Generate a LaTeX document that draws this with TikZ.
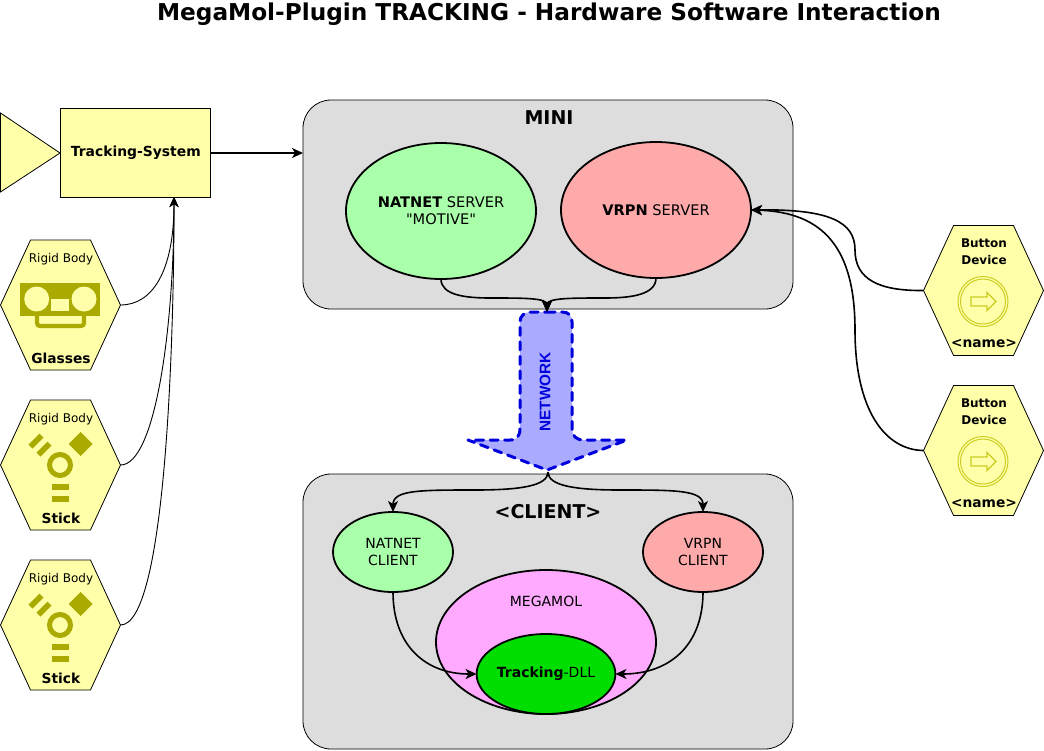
\documentclass[tikz,border=0pt]{standalone}
\usepackage{fontspec}
\setmainfont[Ligatures=TeXOff]{DejaVu Sans}
\newfontfamily\netfont{Liberation Sans}
\usetikzlibrary{arrows.meta,shapes.geometric,shapes.symbols}
\definecolor{hexyellow}{HTML}{FFFFAA}
\definecolor{panelgrey}{HTML}{DDDDDD}
\definecolor{softgreen}{HTML}{AAFFAA}
\definecolor{softred}{HTML}{FFAAAA}
\definecolor{softpink}{HTML}{FFAAFF}
\definecolor{dllgreen}{HTML}{00DD00}
\definecolor{netblue}{HTML}{AAAAFF}
\definecolor{netline}{HTML}{0000DD}
\definecolor{iconolive}{HTML}{AAAA00}
\definecolor{ringolive}{HTML}{CCCC22}
\tikzset{
  every node/.style={inner sep=0pt,outer sep=0pt,align=center},
  panel/.style={draw=black,line width=.8pt,fill=panelgrey,rounded corners=28pt,minimum width=490pt},
  oval/.style={ellipse,draw=black,line width=1.8pt},
  hexa/.style={signal,signal to=east and west,signal pointer angle=130.4,draw=black,line width=.8pt,fill=hexyellow,minimum width=120pt,minimum height=130pt},
  body/.style={font=\fontsize{14}{17}\selectfont},
  bigbody/.style={font=\fontsize{14.6}{17}\selectfont},
  small/.style={font=\fontsize{12}{16}\selectfont},
  smallb/.style={font=\bfseries\fontsize{12}{17}\selectfont},
  hexname/.style={font=\bfseries\fontsize{13.8}{17}\selectfont},
  paneltitle/.style={font=\bfseries\fontsize{19}{22}\selectfont},
  link/.style={line width=1.6pt,-{Stealth[length=11pt,width=10pt,inset=3pt]}},
  thinlink/.style={line width=.9pt,-{Stealth[length=10pt,width=9pt,inset=3pt]}},
  icon/.style={fill=iconolive,draw=none},
  ring/.style={draw=ringolive,line width=1pt,fill=none},
}
\begin{document}
\begin{tikzpicture}[x=1pt,y=-1pt]
\useasboundingbox (0,0) rectangle (1044,750);
\node[font=\bfseries\fontsize{23.2}{26}\selectfont] (title) at (549,14.5) {MegaMol-Plugin TRACKING - Hardware Software Interaction};

% panels
\node[panel,minimum height=209pt] (mini) at (548,204.5) {};
\node[panel,minimum height=275pt] (client) at (548,611.5) {};
\node[paneltitle] (minit) at (549,117.5) {MINI};
\node[paneltitle] (clientt) at (548,512) {<CLIENT>};

% tracking system
\draw[fill=hexyellow,line width=.8pt] (0.5,113) -- (60,153) -- (0.5,192) -- cycle;
\node[draw=black,line width=.8pt,fill=hexyellow,minimum width=150pt,minimum height=89pt,font=\bfseries\fontsize{13.9}{16}\selectfont] (track) at (135.8,152.5) {Tracking-System};

% hexagons left
\node[hexa] (h1) at (60.5,305) {};
\node[hexa] (h2) at (60.5,465) {};
\node[hexa] (h3) at (60.5,625) {};
\foreach \n/\y/\lab in {a/305/Glasses,b/465/Stick,c/625/Stick}{
  \node[small] (rb\n) at (61,\y-46) {Rigid Body};
  \node[hexname] (nm\n) at (61,\y+53) {\lab};
}
% glasses icon
\begin{scope}
\path[icon] (20,283) rectangle (100,316);
\fill[hexyellow] (36.7,299) circle (12.5) (84,299) circle (12.5);
\fill[hexyellow] (51,299) rectangle (69,311);
\draw[iconolive,line width=4.2pt,rounded corners=3pt] (37,315) -- (37,326) -- (84,326) -- (84,315);
\end{scope}
% stick icons
\foreach \y in {465,625}{
  \begin{scope}[shift={(60,\y)}]
    \draw[iconolive,line width=5pt] (0,0) circle (10.5);
    \path[icon] (-8.5,19) rectangle (8.5,25);
    \path[icon] (-8.5,31) rectangle (8.5,37);
    \path[icon] (20.7,-33) -- (32.7,-21) -- (20.7,-9) -- (8.7,-21) -- cycle;
    \path[icon] (-16.5,-27.5) -- (-20.5,-31.5) -- (-31.5,-20.5) -- (-27.5,-16.5) -- cycle;
    \path[icon] (-8.5,-19.5) -- (-12.5,-23.5) -- (-23.5,-12.5) -- (-19.5,-8.5) -- cycle;
  \end{scope}
}

% right hexagons
\node[hexa] (b1) at (983.5,290.5) {};
\node[hexa] (b2) at (983.5,450.5) {};
\foreach \n/\y in {p/290.5,q/450.5}{
  \node[smallb,text width=70pt] (bt\n) at (984,\y-39) {Button\\Device};
  \node[hexname] (bn\n) at (984,\y+53) {<name>};
  \begin{scope}[shift={(983,\y+11)}]
    \draw[ring] (0,0) circle (25) (0,0) circle (22.5);
    \draw[ring,line width=1.1pt] (-12,-4.5) -- (4,-4.5) -- (4,-9) -- (13,0) -- (4,9) -- (4,4.5) -- (-12,4.5) -- cycle;
  \end{scope}
}

% ovals
\node[oval,fill=softgreen,minimum width=190pt,minimum height=136pt,bigbody] (nat) at (441,211) {\textbf{NATNET} SERVER\\"MOTIVE"};
\node[oval,fill=softred,minimum width=190pt,minimum height=136pt,bigbody] (vrpn) at (656,210) {\textbf{VRPN} SERVER};
\node[oval,fill=softgreen,minimum width=120pt,minimum height=80pt,body] (natc) at (393,552) {NATNET\\CLIENT};
\node[oval,fill=softred,minimum width=120pt,minimum height=80pt,body] (vrpnc) at (703,552) {VRPN\\CLIENT};
\node[oval,fill=softpink,minimum width=220pt,minimum height=144pt] (mega) at (546,642) {};
\node[body] (megat) at (546,601) {MEGAMOL};
\node[oval,fill=dllgreen,minimum width=138pt,minimum height=80pt,body] (dll) at (546,674) {\textbf{Tracking}-DLL};

% network arrow
\coordinate (nettop) at (547,312);
\coordinate (nettip) at (547,470);
\path[fill=netblue,draw=netline,line width=3pt,dash pattern=on 8pt off 6.5pt,line cap=round,line join=round]
  (nettop) -- (562,312) .. controls (569,312) and (572,316) .. (572,322) -- (572,428)
  .. controls (572,436) and (576,440) .. (584,440) -- (627,440) -- (nettip) -- (468,440) -- (510,440)
  .. controls (517,440) and (520,436) .. (520,428) -- (520,322) .. controls (520,316) and (524,312) .. (532,312) -- cycle;
\node[rotate=90,text=netline,font=\netfont\bfseries\fontsize{15.3}{17}\selectfont] (net) at (545,392) {NETWORK};

% connectors
\draw[link] (track.east|-0,153) -- (mini.west|-0,153);
\draw[link] (nat.south) .. controls (441,295) and (465,298) .. (490,298) .. controls (525,298) and (547,298) .. (nettop);
\draw[link] (vrpn.south) .. controls (656,295) and (630,298) .. (605,298) .. controls (570,298) and (547,298) .. (nettop);
\coordinate (netout) at (548,472);
\draw[link] (netout) .. controls (548,486) and (520,490) .. (475,490) .. controls (420,490) and (393,490) .. (natc.north);
\draw[link] (netout) .. controls (548,486) and (576,490) .. (620,490) .. controls (675,490) and (703,490) .. (vrpnc.north);
\draw[link] (natc.south) .. controls (393,645) and (425,674) .. (dll.west);
\draw[link] (vrpnc.south) .. controls (703,645) and (670,674) .. (dll.east);
\draw[link] (b1.west) .. controls (880,291) and (855,280) .. (855,250) .. controls (855,222) and (830,209) .. (vrpn.east);
\draw[link] (b2.west) .. controls (885,450) and (855,410) .. (855,330) .. controls (855,250) and (825,212) .. (vrpn.east);
\coordinate (tb) at (174,197);
\draw[thinlink] (h1.east) .. controls (152,305) and (174,272) .. (tb);
\draw[thinlink] (h2.east) .. controls (155,465) and (174,330) .. (tb);
\draw[thinlink] (h3.east) .. controls (165,625) and (174,350) .. (tb);
\end{tikzpicture}
\end{document}
